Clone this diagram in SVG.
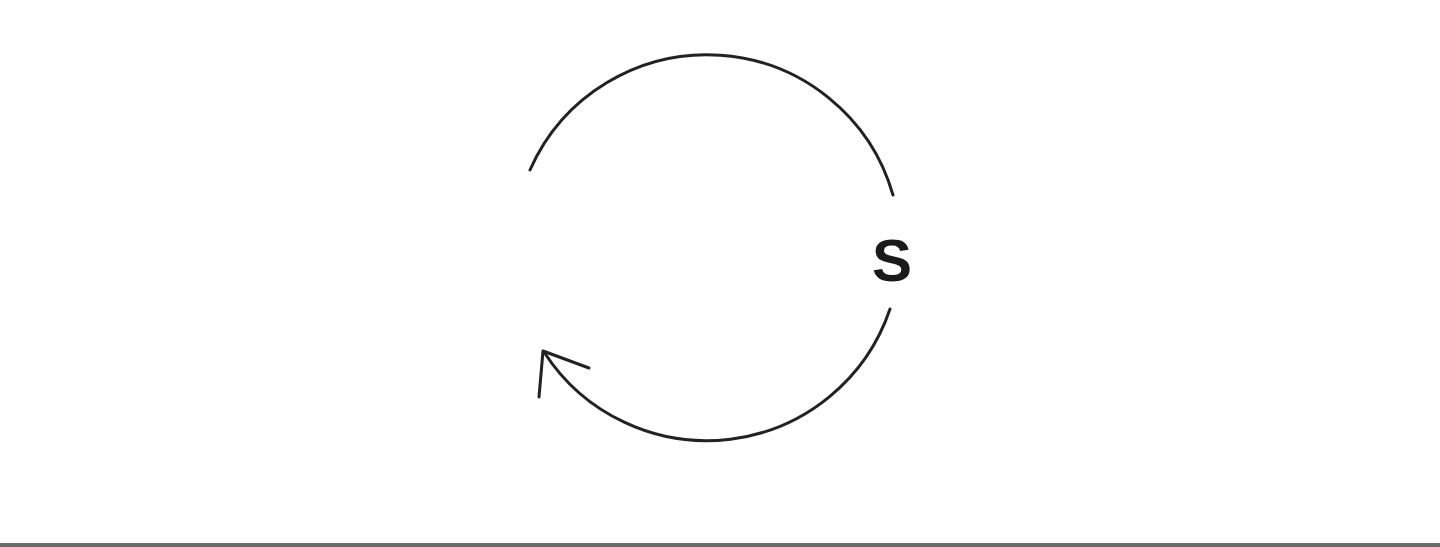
<svg xmlns="http://www.w3.org/2000/svg" width="1440" height="547" viewBox="0 0 1440 547">
  <style>
    .arc { fill: none; stroke: #222; stroke-width: 3; stroke-linecap: round; stroke-linejoin: round; }
    .lbl { font-family: "Liberation Sans", Arial, sans-serif; font-weight: bold; font-size: 60px; fill: #1a1a1a; }
  </style>
  <rect x="0" y="0" width="1440" height="547" fill="#ffffff"/>
  <g id="connectors">
    <path class="arc" d="M 530 170 A 193.5 193.5 0 0 1 893 195"/>
    <path class="arc" d="M 890 309 A 193.5 193.5 0 0 1 544 352"/>
    <path class="arc" d="M 539 397 L 543 351 L 589 368"/>
  </g>
  <g id="node-s">
    <text class="lbl" x="892" y="281" text-anchor="middle">S</text>
  </g>
  <rect x="0" y="543" width="1440" height="4" fill="#6a6a6a"/>
</svg>
